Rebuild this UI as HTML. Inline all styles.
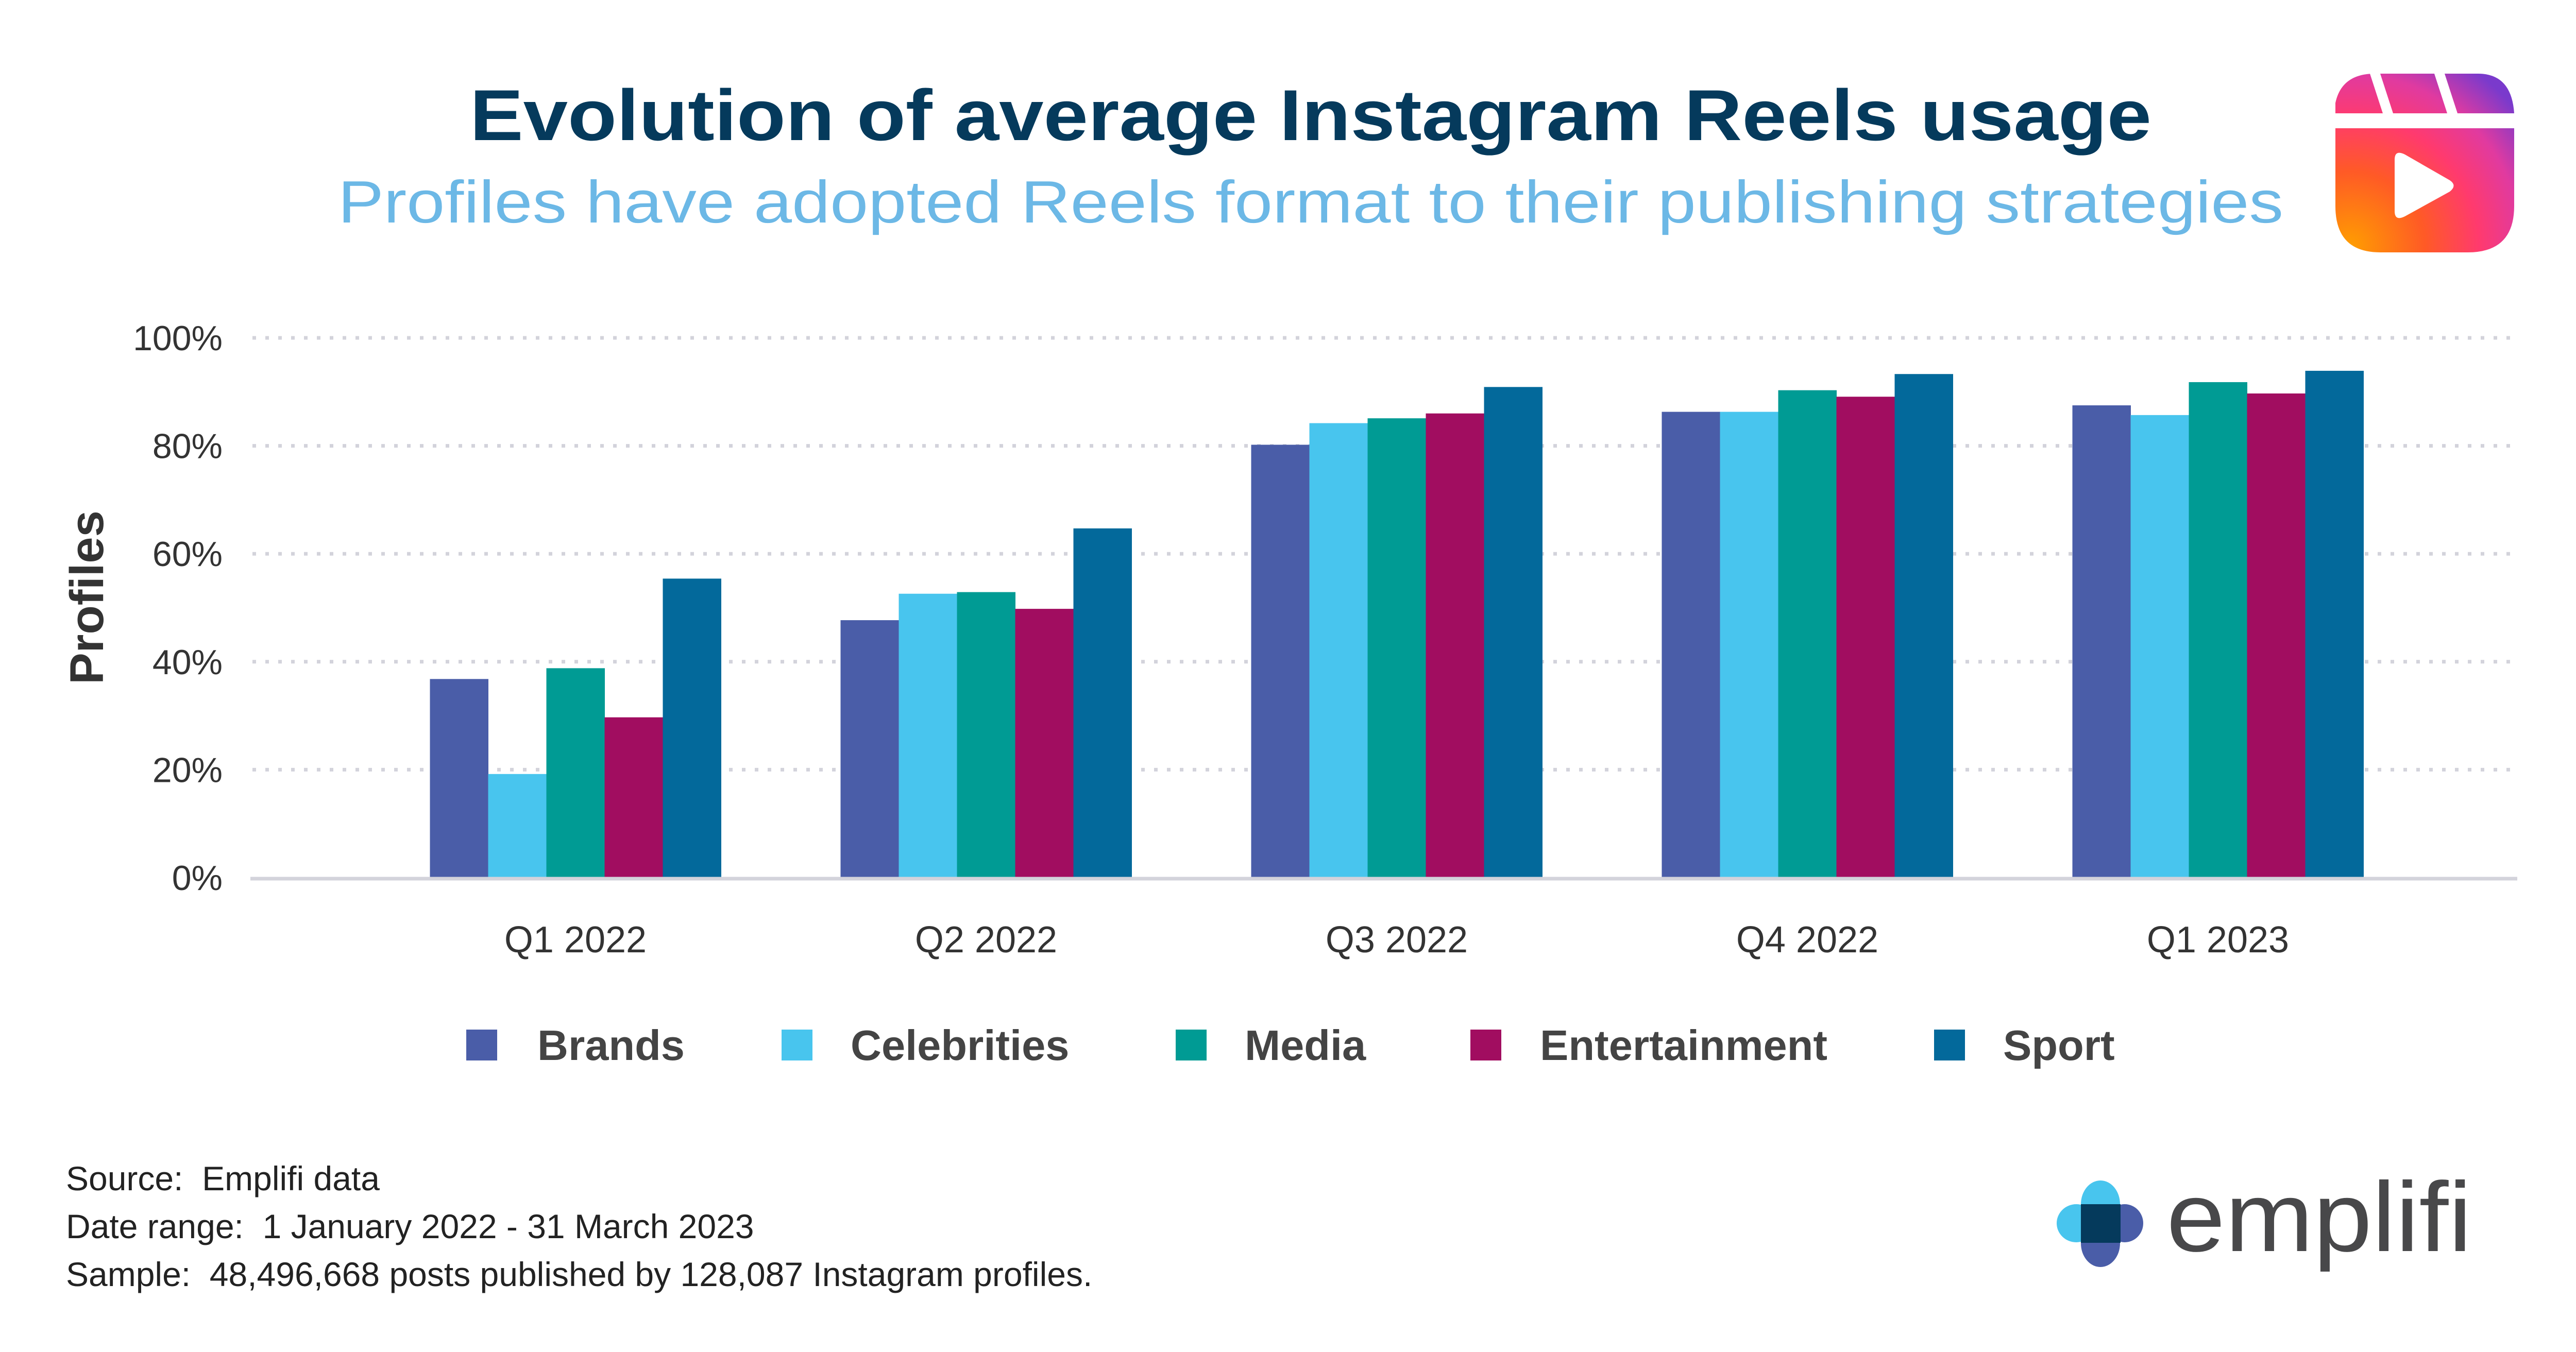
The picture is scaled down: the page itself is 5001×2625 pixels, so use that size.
<!DOCTYPE html>
<html><head><meta charset="utf-8"><style>
html,body{margin:0;padding:0;background:#fff;}
svg{display:block;}
text{font-family:"Liberation Sans",sans-serif;}
</style></head><body>
<svg id="chart" width="5001" height="2625" viewBox="0 0 5001 2625" xmlns="http://www.w3.org/2000/svg">
<defs>
<radialGradient id="rg" cx="4560" cy="480" r="420" gradientUnits="userSpaceOnUse">
<stop offset="0" stop-color="#ff9e00"/><stop offset="0.35" stop-color="#ff5a26"/><stop offset="0.6" stop-color="#ff3a6e"/><stop offset="0.8" stop-color="#e03aa0"/><stop offset="1" stop-color="#7a3acc"/>
</radialGradient>
</defs>
<text x="2544" y="272" text-anchor="middle" font-size="140" font-weight="bold" fill="#053A5C" textLength="3264" lengthAdjust="spacingAndGlyphs">Evolution of average Instagram Reels usage</text>
<text x="2544" y="432" text-anchor="middle" font-size="116" fill="#6CB8E6" textLength="3776" lengthAdjust="spacingAndGlyphs">Profiles have adopted Reels format to their publishing strategies</text>
<g>
<path d="M4533,220 L4533,200 Q4545,143 4610,143 L4810,143 Q4875,143 4880,220 Z" fill="url(#rg)"/>
<path d="M4533,249 L4880,249 L4880,400 Q4880,490 4790,490 L4620,490 Q4533,490 4533,400 Z" fill="url(#rg)"/>
<polygon points="4600,143 4620,143 4645,220 4625,220" fill="#fff"/>
<polygon points="4725,143 4745,143 4770,220 4750,220" fill="#fff"/>
<path d="M4648,310 Q4648,290 4668,300 L4755,350 Q4770,360 4755,372 L4668,420 Q4648,430 4648,410 Z" fill="#fff"/>
</g>
<g id="grid"></g>
<g id="yticks"></g>
<text transform="translate(200,1160) rotate(-90)" text-anchor="middle" font-size="92" font-weight="bold" fill="#333">Profiles</text>
<g id="bars"></g>
<line x1="486" y1="1706" x2="4886" y2="1706" stroke="#d3d3db" stroke-width="7"/>
<g id="xlabels"></g>
<g id="legend"></g>
<g fill="#222" font-size="66">
<text x="128" y="2311">Source:&#160; Emplifi data</text>
<text x="128" y="2404">Date range:&#160; 1 January 2022 - 31 March 2023</text>
<text x="128" y="2497">Sample:&#160; 48,496,668 posts published by 128,087 Instagram profiles.</text>
</g>
<g>
<ellipse cx="4077" cy="2338" rx="38" ry="46" fill="#48C5EE"/>
<ellipse cx="4030" cy="2375" rx="38" ry="37" fill="#48C5EE"/>
<ellipse cx="4124" cy="2375" rx="36" ry="37" fill="#4A5DA8"/>
<ellipse cx="4077" cy="2414" rx="38" ry="46" fill="#4A5DA8"/>
<rect x="4039" y="2338" width="77" height="75" fill="#053A5C"/>
<text x="4205" y="2429" font-size="192" fill="#48484a" textLength="593" lengthAdjust="spacingAndGlyphs">emplifi</text>
</g>
</svg>
<script>
const categories = ["Q1 2022","Q2 2022","Q3 2022","Q4 2022","Q1 2023"];
const seriesNames = ["Brands","Celebrities","Media","Entertainment","Sport"];
const brands = [36.8,47.7,80.2,86.3,87.5];
const celebrities = [19.2,52.6,84.2,86.3,85.7];
const media = [38.8,52.9,85.1,90.3,91.8];
const entertainment = [29.7,49.8,86.0,89.1,89.7];
const sport = [55.4,64.7,90.9,93.3,93.9];
const yTicks = [0,20,40,60,80,100];
const tickLabels = ["0%","20%","40%","60%","80%","100%"];

const colors = ["#4A5DA8","#48C5EE","#009B94","#A10D60","#03699B"];
const series = [brands,celebrities,media,entertainment,sport];
const NS = "http://www.w3.org/2000/svg";
const y0 = 1704, y100 = 656;
function yScale(v){ return y0 - (v/100)*(y0-y100); }
function xCenter(i){ return 1117 + i*797; }
const barW = 113;
function mk(tag, attrs, parent){ const e=document.createElementNS(NS,tag); for(const k in attrs) e.setAttribute(k,attrs[k]); parent.appendChild(e); return e; }

const grid=document.getElementById('grid'), yt=document.getElementById('yticks');
yTicks.forEach((t,i)=>{
  const y=yScale(t);
  if(t>0){
    const l=mk('line',{x1:490,x2:4886,y1:y,y2:y,stroke:'#d3d3db','stroke-width':7,'stroke-dasharray':'7 18'},grid);
    
    
  }
  const tx=mk('text',{x:432,y:y+24,'text-anchor':'end','font-size':68,fill:'#333'},yt);
  tx.textContent=tickLabels[i];
  
  
});
const bars=document.getElementById('bars');
categories.forEach((c,i)=>{
  series.forEach((s,j)=>{
    const x=xCenter(i)-2.5*barW+j*barW;
    const y=yScale(s[i]);
    const r=mk('rect',{x:x,y:y,width:barW+0.5,height:y0-y,fill:colors[j]},bars);
    
    
  });
});
const xl=document.getElementById('xlabels');
categories.forEach((c,i)=>{
  const t=mk('text',{x:xCenter(i),y:1849,'text-anchor':'middle','font-size':72,fill:'#333'},xl);
  t.textContent=c;
  
  
});
const legendSq=[905,1517,2282,2854,3754];
const legendTx=[1043,1651,2416,2989,3888];
const lg=document.getElementById('legend');
seriesNames.forEach((n,j)=>{
  const g=mk('g',{},lg);
  
  
  mk('rect',{x:legendSq[j],y:1999,width:60,height:60,fill:colors[j]},g);
  const t=mk('text',{x:legendTx[j],y:2058,'font-size':83,fill:'#444','font-weight':'bold'},g);
  t.textContent=n;
});
</script>
</body></html>
